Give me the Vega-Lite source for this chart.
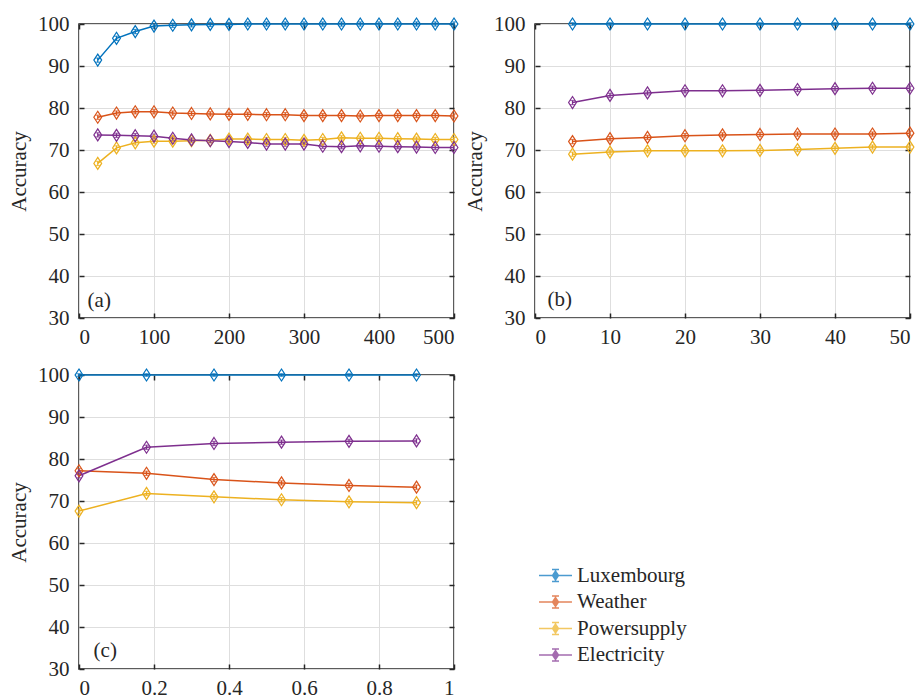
{
  "$schema": "https://vega.github.io/schema/vega-lite/v6.json",
  "background": "white",
  "padding": {"left": 7, "top": 12, "right": 5, "bottom": 5},
  "bounds": "flush",
  "columns": 2,
  "spacing": {"row": 57, "column": 81},
  "datasets": {
    "a": [
      {"series": "Luxembourg", "x": 25, "acc": 91.4, "err": 0.5},
      {"series": "Luxembourg", "x": 50, "acc": 96.6, "err": 0.5},
      {"series": "Luxembourg", "x": 75, "acc": 98.2, "err": 0.5},
      {"series": "Luxembourg", "x": 100, "acc": 99.5, "err": 0.5},
      {"series": "Luxembourg", "x": 125, "acc": 99.7, "err": 0.5},
      {"series": "Luxembourg", "x": 150, "acc": 99.8, "err": 0.5},
      {"series": "Luxembourg", "x": 175, "acc": 99.9, "err": 0.5},
      {"series": "Luxembourg", "x": 200, "acc": 99.9, "err": 0.5},
      {"series": "Luxembourg", "x": 225, "acc": 100, "err": 0.5},
      {"series": "Luxembourg", "x": 250, "acc": 100, "err": 0.5},
      {"series": "Luxembourg", "x": 275, "acc": 100, "err": 0.5},
      {"series": "Luxembourg", "x": 300, "acc": 100, "err": 0.5},
      {"series": "Luxembourg", "x": 325, "acc": 100, "err": 0.5},
      {"series": "Luxembourg", "x": 350, "acc": 100, "err": 0.5},
      {"series": "Luxembourg", "x": 375, "acc": 100, "err": 0.5},
      {"series": "Luxembourg", "x": 400, "acc": 100, "err": 0.5},
      {"series": "Luxembourg", "x": 425, "acc": 100, "err": 0.5},
      {"series": "Luxembourg", "x": 450, "acc": 100, "err": 0.5},
      {"series": "Luxembourg", "x": 475, "acc": 100, "err": 0.5},
      {"series": "Luxembourg", "x": 500, "acc": 100, "err": 0.5},
      {"series": "Weather", "x": 25, "acc": 77.8, "err": 0.5},
      {"series": "Weather", "x": 50, "acc": 78.8, "err": 0.5},
      {"series": "Weather", "x": 75, "acc": 79.1, "err": 0.5},
      {"series": "Weather", "x": 100, "acc": 79.1, "err": 0.5},
      {"series": "Weather", "x": 125, "acc": 78.8, "err": 0.5},
      {"series": "Weather", "x": 150, "acc": 78.7, "err": 0.5},
      {"series": "Weather", "x": 175, "acc": 78.6, "err": 0.5},
      {"series": "Weather", "x": 200, "acc": 78.5, "err": 0.5},
      {"series": "Weather", "x": 225, "acc": 78.5, "err": 0.5},
      {"series": "Weather", "x": 250, "acc": 78.4, "err": 0.5},
      {"series": "Weather", "x": 275, "acc": 78.4, "err": 0.5},
      {"series": "Weather", "x": 300, "acc": 78.2, "err": 0.5},
      {"series": "Weather", "x": 325, "acc": 78.2, "err": 0.5},
      {"series": "Weather", "x": 350, "acc": 78.2, "err": 0.5},
      {"series": "Weather", "x": 375, "acc": 78.1, "err": 0.5},
      {"series": "Weather", "x": 400, "acc": 78.2, "err": 0.5},
      {"series": "Weather", "x": 425, "acc": 78.2, "err": 0.5},
      {"series": "Weather", "x": 450, "acc": 78.2, "err": 0.5},
      {"series": "Weather", "x": 475, "acc": 78.2, "err": 0.5},
      {"series": "Weather", "x": 500, "acc": 78.1, "err": 0.5},
      {"series": "Powersupply", "x": 25, "acc": 66.8, "err": 0.5},
      {"series": "Powersupply", "x": 50, "acc": 70.5, "err": 0.5},
      {"series": "Powersupply", "x": 75, "acc": 71.7, "err": 0.5},
      {"series": "Powersupply", "x": 100, "acc": 72.1, "err": 0.5},
      {"series": "Powersupply", "x": 125, "acc": 72.1, "err": 0.5},
      {"series": "Powersupply", "x": 150, "acc": 72.2, "err": 0.5},
      {"series": "Powersupply", "x": 175, "acc": 72.3, "err": 0.5},
      {"series": "Powersupply", "x": 200, "acc": 72.6, "err": 0.5},
      {"series": "Powersupply", "x": 225, "acc": 72.6, "err": 0.5},
      {"series": "Powersupply", "x": 250, "acc": 72.5, "err": 0.5},
      {"series": "Powersupply", "x": 275, "acc": 72.5, "err": 0.5},
      {"series": "Powersupply", "x": 300, "acc": 72.3, "err": 0.5},
      {"series": "Powersupply", "x": 325, "acc": 72.5, "err": 0.5},
      {"series": "Powersupply", "x": 350, "acc": 72.9, "err": 0.5},
      {"series": "Powersupply", "x": 375, "acc": 72.8, "err": 0.5},
      {"series": "Powersupply", "x": 400, "acc": 72.8, "err": 0.5},
      {"series": "Powersupply", "x": 425, "acc": 72.7, "err": 0.5},
      {"series": "Powersupply", "x": 450, "acc": 72.6, "err": 0.5},
      {"series": "Powersupply", "x": 475, "acc": 72.5, "err": 0.5},
      {"series": "Powersupply", "x": 500, "acc": 72.5, "err": 0.5},
      {"series": "Electricity", "x": 25, "acc": 73.6, "err": 0.5},
      {"series": "Electricity", "x": 50, "acc": 73.5, "err": 0.5},
      {"series": "Electricity", "x": 75, "acc": 73.4, "err": 0.5},
      {"series": "Electricity", "x": 100, "acc": 73.3, "err": 0.5},
      {"series": "Electricity", "x": 125, "acc": 72.8, "err": 0.5},
      {"series": "Electricity", "x": 150, "acc": 72.4, "err": 0.5},
      {"series": "Electricity", "x": 175, "acc": 72.2, "err": 0.5},
      {"series": "Electricity", "x": 200, "acc": 72.0, "err": 0.5},
      {"series": "Electricity", "x": 225, "acc": 71.8, "err": 0.5},
      {"series": "Electricity", "x": 250, "acc": 71.4, "err": 0.5},
      {"series": "Electricity", "x": 275, "acc": 71.4, "err": 0.5},
      {"series": "Electricity", "x": 300, "acc": 71.4, "err": 0.5},
      {"series": "Electricity", "x": 325, "acc": 70.9, "err": 0.5},
      {"series": "Electricity", "x": 350, "acc": 70.8, "err": 0.5},
      {"series": "Electricity", "x": 375, "acc": 71.0, "err": 0.5},
      {"series": "Electricity", "x": 400, "acc": 70.9, "err": 0.5},
      {"series": "Electricity", "x": 425, "acc": 70.8, "err": 0.5},
      {"series": "Electricity", "x": 450, "acc": 70.7, "err": 0.5},
      {"series": "Electricity", "x": 475, "acc": 70.6, "err": 0.5},
      {"series": "Electricity", "x": 500, "acc": 70.6, "err": 0.5}
    ],
    "b": [
      {"series": "Luxembourg", "x": 5, "acc": 100, "err": 0.3},
      {"series": "Luxembourg", "x": 10, "acc": 100, "err": 0.3},
      {"series": "Luxembourg", "x": 15, "acc": 100, "err": 0.3},
      {"series": "Luxembourg", "x": 20, "acc": 100, "err": 0.3},
      {"series": "Luxembourg", "x": 25, "acc": 100, "err": 0.3},
      {"series": "Luxembourg", "x": 30, "acc": 100, "err": 0.3},
      {"series": "Luxembourg", "x": 35, "acc": 100, "err": 0.3},
      {"series": "Luxembourg", "x": 40, "acc": 100, "err": 0.3},
      {"series": "Luxembourg", "x": 45, "acc": 100, "err": 0.3},
      {"series": "Luxembourg", "x": 50, "acc": 100, "err": 0.3},
      {"series": "Weather", "x": 5, "acc": 72.0, "err": 0.5},
      {"series": "Weather", "x": 10, "acc": 72.7, "err": 0.5},
      {"series": "Weather", "x": 15, "acc": 73.0, "err": 0.5},
      {"series": "Weather", "x": 20, "acc": 73.4, "err": 0.5},
      {"series": "Weather", "x": 25, "acc": 73.6, "err": 0.5},
      {"series": "Weather", "x": 30, "acc": 73.7, "err": 0.5},
      {"series": "Weather", "x": 35, "acc": 73.8, "err": 0.5},
      {"series": "Weather", "x": 40, "acc": 73.8, "err": 0.5},
      {"series": "Weather", "x": 45, "acc": 73.8, "err": 0.5},
      {"series": "Weather", "x": 50, "acc": 74.0, "err": 0.5},
      {"series": "Powersupply", "x": 5, "acc": 69.0, "err": 0.5},
      {"series": "Powersupply", "x": 10, "acc": 69.5, "err": 0.5},
      {"series": "Powersupply", "x": 15, "acc": 69.8, "err": 0.5},
      {"series": "Powersupply", "x": 20, "acc": 69.8, "err": 0.5},
      {"series": "Powersupply", "x": 25, "acc": 69.8, "err": 0.5},
      {"series": "Powersupply", "x": 30, "acc": 69.9, "err": 0.5},
      {"series": "Powersupply", "x": 35, "acc": 70.1, "err": 0.5},
      {"series": "Powersupply", "x": 40, "acc": 70.4, "err": 0.5},
      {"series": "Powersupply", "x": 45, "acc": 70.7, "err": 0.5},
      {"series": "Powersupply", "x": 50, "acc": 70.7, "err": 0.5},
      {"series": "Electricity", "x": 5, "acc": 81.3, "err": 0.5},
      {"series": "Electricity", "x": 10, "acc": 83.0, "err": 0.5},
      {"series": "Electricity", "x": 15, "acc": 83.6, "err": 0.5},
      {"series": "Electricity", "x": 20, "acc": 84.1, "err": 0.5},
      {"series": "Electricity", "x": 25, "acc": 84.1, "err": 0.5},
      {"series": "Electricity", "x": 30, "acc": 84.2, "err": 0.5},
      {"series": "Electricity", "x": 35, "acc": 84.4, "err": 0.5},
      {"series": "Electricity", "x": 40, "acc": 84.6, "err": 0.5},
      {"series": "Electricity", "x": 45, "acc": 84.7, "err": 0.5},
      {"series": "Electricity", "x": 50, "acc": 84.7, "err": 0.5}
    ],
    "c": [
      {"series": "Luxembourg", "x": 0, "acc": 100, "err": 0.3},
      {"series": "Luxembourg", "x": 0.18, "acc": 100, "err": 0.3},
      {"series": "Luxembourg", "x": 0.36, "acc": 100, "err": 0.3},
      {"series": "Luxembourg", "x": 0.54, "acc": 100, "err": 0.3},
      {"series": "Luxembourg", "x": 0.72, "acc": 100, "err": 0.3},
      {"series": "Luxembourg", "x": 0.9, "acc": 100, "err": 0.3},
      {"series": "Weather", "x": 0, "acc": 77.2, "err": 0.5},
      {"series": "Weather", "x": 0.18, "acc": 76.6, "err": 0.5},
      {"series": "Weather", "x": 0.36, "acc": 75.1, "err": 0.5},
      {"series": "Weather", "x": 0.54, "acc": 74.3, "err": 0.5},
      {"series": "Weather", "x": 0.72, "acc": 73.7, "err": 0.5},
      {"series": "Weather", "x": 0.9, "acc": 73.3, "err": 0.5},
      {"series": "Powersupply", "x": 0, "acc": 67.6, "err": 0.5},
      {"series": "Powersupply", "x": 0.18, "acc": 71.8, "err": 0.5},
      {"series": "Powersupply", "x": 0.36, "acc": 71.0, "err": 0.5},
      {"series": "Powersupply", "x": 0.54, "acc": 70.3, "err": 0.5},
      {"series": "Powersupply", "x": 0.72, "acc": 69.8, "err": 0.5},
      {"series": "Powersupply", "x": 0.9, "acc": 69.6, "err": 0.5},
      {"series": "Electricity", "x": 0, "acc": 76.0, "err": 0.5},
      {"series": "Electricity", "x": 0.18, "acc": 82.8, "err": 0.5},
      {"series": "Electricity", "x": 0.36, "acc": 83.7, "err": 0.5},
      {"series": "Electricity", "x": 0.54, "acc": 84.0, "err": 0.5},
      {"series": "Electricity", "x": 0.72, "acc": 84.2, "err": 0.5},
      {"series": "Electricity", "x": 0.9, "acc": 84.3, "err": 0.5}
    ]
  },
  "concat": [
    {
      "width": 375,
      "height": 294,
      "layer": [
        {
          "data": {"name": "a"},
          "mark": {"type": "line", "strokeWidth": 1.5},
          "encoding": {
            "x": {"field": "x", "type": "quantitative", "scale": {"domain": [0, 500], "nice": false, "zero": false}, "axis": {"title": null, "values": [0, 100, 200, 300, 400, 500], "labelFont": "Liberation Serif", "labelFontSize": 21}},
            "y": {"field": "acc", "type": "quantitative", "scale": {"domain": [30, 100], "nice": false, "zero": false}, "axis": {"title": "Accuracy", "values": [30, 40, 50, 60, 70, 80, 90, 100], "labelFont": "Liberation Serif", "labelFontSize": 21, "titleFont": "Liberation Serif", "titleFontSize": 21, "titleFontWeight": "normal"}},
            "color": {"field": "series", "type": "nominal", "scale": {"domain": ["Luxembourg", "Weather", "Powersupply", "Electricity"], "range": ["#0072BD", "#D95319", "#EDB120", "#7E2F8E"]}, "legend": {"title": null, "labelFont": "Liberation Serif", "labelFontSize": 21}}
          }
        },
        {
          "data": {"name": "a"},
          "mark": {"type": "errorbar", "ticks": true, "thickness": 1.2},
          "encoding": {
            "x": {"field": "x", "type": "quantitative", "axis": null},
            "y": {"field": "acc", "type": "quantitative", "axis": null},
            "yError": {"field": "err"},
            "color": {"field": "series", "type": "nominal"}
          }
        },
        {
          "data": {"name": "a"},
          "mark": {"type": "point", "shape": "M0,-1L0.65,0L0,1L-0.65,0Z", "size": 144, "filled": false, "strokeWidth": 1.2, "opacity": 1},
          "encoding": {
            "x": {"field": "x", "type": "quantitative", "axis": null},
            "y": {"field": "acc", "type": "quantitative", "axis": null},
            "color": {"field": "series", "type": "nominal"}
          }
        },
        {
          "data": {"values": [{"label": "(a)", "x": 27, "y": 34}]},
          "mark": {"type": "text", "font": "Liberation Serif", "fontSize": 21, "color": "#262626"},
          "encoding": {
            "x": {"field": "x", "type": "quantitative", "axis": {"orient": "top", "labels": false, "grid": false, "title": null, "values": [0, 100, 200, 300, 400, 500]}},
            "y": {"field": "y", "type": "quantitative", "axis": {"orient": "right", "labels": false, "grid": false, "title": null, "values": [30, 40, 50, 60, 70, 80, 90, 100]}},
            "text": {"field": "label"}
          }
        }
      ],
      "resolve": {"axis": {"x": "independent", "y": "independent"}}
    },
    {
      "width": 375,
      "height": 294,
      "layer": [
        {
          "data": {"name": "b"},
          "mark": {"type": "line", "strokeWidth": 1.5},
          "encoding": {
            "x": {"field": "x", "type": "quantitative", "scale": {"domain": [0, 50], "nice": false, "zero": false}, "axis": {"title": null, "values": [0, 10, 20, 30, 40, 50], "labelFont": "Liberation Serif", "labelFontSize": 21}},
            "y": {"field": "acc", "type": "quantitative", "scale": {"domain": [30, 100], "nice": false, "zero": false}, "axis": {"title": "Accuracy", "values": [30, 40, 50, 60, 70, 80, 90, 100], "labelFont": "Liberation Serif", "labelFontSize": 21, "titleFont": "Liberation Serif", "titleFontSize": 21, "titleFontWeight": "normal"}},
            "color": {"field": "series", "type": "nominal", "legend": {"title": null, "labelFont": "Liberation Serif", "labelFontSize": 21}}
          }
        },
        {
          "data": {"name": "b"},
          "mark": {"type": "errorbar", "ticks": true, "thickness": 1.2},
          "encoding": {
            "x": {"field": "x", "type": "quantitative", "axis": null},
            "y": {"field": "acc", "type": "quantitative", "axis": null},
            "yError": {"field": "err"},
            "color": {"field": "series", "type": "nominal"}
          }
        },
        {
          "data": {"name": "b"},
          "mark": {"type": "point", "shape": "M0,-1L0.65,0L0,1L-0.65,0Z", "size": 144, "filled": false, "strokeWidth": 1.2, "opacity": 1},
          "encoding": {
            "x": {"field": "x", "type": "quantitative", "axis": null},
            "y": {"field": "acc", "type": "quantitative", "axis": null},
            "color": {"field": "series", "type": "nominal"}
          }
        },
        {
          "data": {"values": [{"label": "(b)", "x": 3.3, "y": 34.3}]},
          "mark": {"type": "text", "font": "Liberation Serif", "fontSize": 21, "color": "#262626"},
          "encoding": {
            "x": {"field": "x", "type": "quantitative", "axis": {"orient": "top", "labels": false, "grid": false, "title": null, "values": [0, 10, 20, 30, 40, 50]}},
            "y": {"field": "y", "type": "quantitative", "axis": {"orient": "right", "labels": false, "grid": false, "title": null, "values": [30, 40, 50, 60, 70, 80, 90, 100]}},
            "text": {"field": "label"}
          }
        }
      ],
      "resolve": {"axis": {"x": "independent", "y": "independent"}}
    },
    {
      "width": 375,
      "height": 294,
      "layer": [
        {
          "data": {"name": "c"},
          "mark": {"type": "line", "strokeWidth": 1.5},
          "encoding": {
            "x": {"field": "x", "type": "quantitative", "scale": {"domain": [0, 1], "nice": false, "zero": false}, "axis": {"title": null, "values": [0, 0.2, 0.4, 0.6, 0.8, 1], "format": "~g", "labelFont": "Liberation Serif", "labelFontSize": 21}},
            "y": {"field": "acc", "type": "quantitative", "scale": {"domain": [30, 100], "nice": false, "zero": false}, "axis": {"title": "Accuracy", "values": [30, 40, 50, 60, 70, 80, 90, 100], "labelFont": "Liberation Serif", "labelFontSize": 21, "titleFont": "Liberation Serif", "titleFontSize": 21, "titleFontWeight": "normal"}},
            "color": {"field": "series", "type": "nominal", "legend": {"title": null, "labelFont": "Liberation Serif", "labelFontSize": 21}}
          }
        },
        {
          "data": {"name": "c"},
          "mark": {"type": "errorbar", "ticks": true, "thickness": 1.2},
          "encoding": {
            "x": {"field": "x", "type": "quantitative", "axis": null},
            "y": {"field": "acc", "type": "quantitative", "axis": null},
            "yError": {"field": "err"},
            "color": {"field": "series", "type": "nominal"}
          }
        },
        {
          "data": {"name": "c"},
          "mark": {"type": "point", "shape": "M0,-1L0.65,0L0,1L-0.65,0Z", "size": 144, "filled": false, "strokeWidth": 1.2, "opacity": 1},
          "encoding": {
            "x": {"field": "x", "type": "quantitative", "axis": null},
            "y": {"field": "acc", "type": "quantitative", "axis": null},
            "color": {"field": "series", "type": "nominal"}
          }
        },
        {
          "data": {"values": [{"label": "(c)", "x": 0.07, "y": 34.4}]},
          "mark": {"type": "text", "font": "Liberation Serif", "fontSize": 21, "color": "#262626"},
          "encoding": {
            "x": {"field": "x", "type": "quantitative", "axis": {"orient": "top", "labels": false, "grid": false, "title": null, "values": [0, 0.2, 0.4, 0.6, 0.8, 1]}},
            "y": {"field": "y", "type": "quantitative", "axis": {"orient": "right", "labels": false, "grid": false, "title": null, "values": [30, 40, 50, 60, 70, 80, 90, 100]}},
            "text": {"field": "label"}
          }
        }
      ],
      "resolve": {"axis": {"x": "independent", "y": "independent"}}
    }
  ],
  "config": {
    "font": "Liberation Serif",
    "view": {"stroke": "#262626", "strokeWidth": 1.5},
    "axis": {
      "labelFont": "Liberation Serif",
      "labelFontSize": 21,
      "labelColor": "#262626",
      "titleFont": "Liberation Serif",
      "titleFontSize": 21,
      "titleFontWeight": "normal",
      "titleColor": "#262626",
      "domain": false,
      "tickColor": "#262626",
      "tickSize": -5,
      "tickWidth": 1.5,
      "gridColor": "#dedede",
      "gridWidth": 1,
      "labelPadding": 13,
      "titlePadding": 8
    },
    "axisY": {"labelPadding": 15},
    "legend": {
      "orient": "none",
      "legendX": 462,
      "legendY": 537,
      "labelFont": "Liberation Serif",
      "labelFontSize": 21,
      "labelColor": "#262626",
      "labelOffset": 7,
      "symbolSize": 729,
      "symbolStrokeWidth": 1.5,
      "symbolType": "M-1.22,0H1.22M0,-0.44V0.44M-0.26,-0.44H0.26M-0.26,0.44H0.26M0,-0.33L0.22,0L0,0.33L-0.22,0Z",
      "symbolFillColor": "transparent",
      "rowPadding": 1.5
    }
  }
}
